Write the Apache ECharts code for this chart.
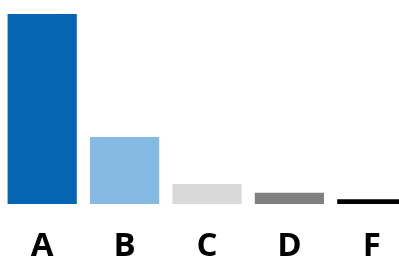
<!DOCTYPE html>
<html>
<head>
<meta charset="utf-8">
<script src="https://cdn.jsdelivr.net/npm/echarts@6/dist/echarts.min.js"></script>
<style>
  html, body { margin: 0; padding: 0; background: #fff; }
  #chart { width: 399px; height: 258px; }
</style>
</head>
<body>
<div id="chart"></div>
<script>
// 数据
const categories = ['A', 'B', 'C', 'D', 'F'];
const values = [100, 35.3, 10.5, 5.9, 2.5];
const colors = ['#0565b4', '#85bae3', '#d9d9d9', '#808080', '#000000'];

const chart = echarts.init(document.getElementById('chart'));

chart.setOption({
  animation: false,
  grid: { left: 1, top: 14, width: 412, height: 190, outerBoundsMode: 'none', containLabel: false },
  xAxis: {
    type: 'category',
    data: categories,
    axisLine: { show: false },
    axisTick: { show: false },
    axisLabel: {
      margin: 26,
      fontFamily: 'Open Sans',
      fontWeight: 'bold',
      fontSize: 33,
      color: '#000'
    }
  },
  yAxis: {
    type: 'value',
    min: 0,
    max: 100,
    show: false
  },
  series: [{
    type: 'bar',
    barCategoryGap: '16%',
    data: values.map((v, i) => ({ value: v, itemStyle: { color: colors[i] } }))
  }]
});
</script>
</body>
</html>
